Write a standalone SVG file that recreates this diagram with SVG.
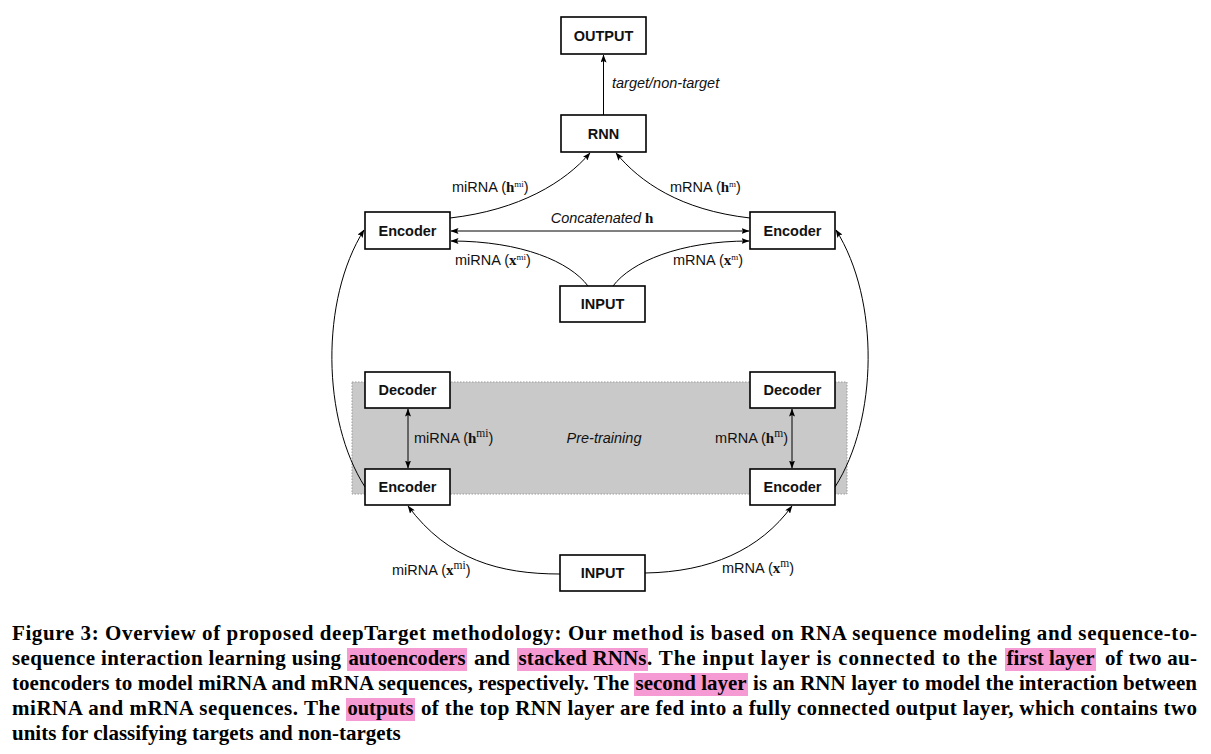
<svg xmlns="http://www.w3.org/2000/svg" width="1211" height="754" viewBox="0 0 1211 754">
<style>
.box{fill:#fff;stroke:#000;stroke-width:1.6}
.nl{font-family:"Liberation Sans",Arial,sans-serif;font-weight:bold;font-size:14.5px;text-anchor:middle;fill:#111}
.lbl{font-family:"Liberation Sans",Arial,sans-serif;font-size:14.5px;fill:#111}
.it{font-style:italic}
.m{font-family:"Liberation Serif","Times New Roman",serif;font-weight:bold;font-size:15px}
.sup{font-family:"Liberation Serif","Times New Roman",serif;font-size:9px}
.supb{font-family:"Liberation Serif","Times New Roman",serif;font-size:11.5px}
.con{fill:none;stroke:#000;stroke-width:1}
.cap{font-family:"Liberation Serif","Times New Roman",serif;font-weight:bold;font-size:21px;fill:#000}
.hl{fill:#f59ad2}
</style>
<defs>
<marker id="ah" viewBox="0 0 8 6" refX="7.5" refY="3" markerWidth="8" markerHeight="6" markerUnits="userSpaceOnUse" orient="auto-start-reverse">
<path d="M0,0 L8,3 L0,6 L1.5,3 z" fill="#000"/>
</marker>
</defs>

<rect x="352" y="382" width="495" height="112" fill="#c9c9c9" stroke="#9a9a9a" stroke-width="1" stroke-dasharray="1.5,1.5"/>

<g id="connectors">
<path class="con" d="M603.5,115 L603.5,55" marker-end="url(#ah)"/>
<path class="con" d="M450,218 C520,210 565,182 590,153" marker-end="url(#ah)"/>
<path class="con" d="M750,218 C680,210 640,182 616,153" marker-end="url(#ah)"/>
<path class="con" d="M451,231 L749,231" marker-start="url(#ah)" marker-end="url(#ah)"/>
<path class="con" d="M588,286 C570,262 522,241 451,241" marker-end="url(#ah)"/>
<path class="con" d="M613,286 C631,262 680,241 749,241" marker-end="url(#ah)"/>
<path class="con" d="M365,487 C322,420 320,300 364,230" marker-end="url(#ah)"/>
<path class="con" d="M835,487 C878,420 880,300 836,230" marker-end="url(#ah)"/>
<path class="con" d="M408,409 L408,468" marker-start="url(#ah)" marker-end="url(#ah)"/>
<path class="con" d="M792,409 L792,468" marker-start="url(#ah)" marker-end="url(#ah)"/>
<path class="con" d="M560,574 C500,574 448,560 408,506" marker-end="url(#ah)"/>
<path class="con" d="M645,573 C710,572 760,550 792,506" marker-end="url(#ah)"/>
</g>

<g id="edge-labels">
<text class="lbl it" x="612" y="88">target/non-target</text>
<text class="lbl" x="452" y="192">miRNA (<tspan class="m">h</tspan><tspan class="sup" dy="-5">mi</tspan><tspan dy="5">)</tspan></text>
<text class="lbl" x="670" y="192">mRNA (<tspan class="m">h</tspan><tspan class="sup" dy="-5">m</tspan><tspan dy="5">)</tspan></text>
<text class="lbl" x="602" y="223" text-anchor="middle"><tspan class="it">Concatenated </tspan><tspan class="m">h</tspan></text>
<text class="lbl" x="455" y="265">miRNA (<tspan class="m">x</tspan><tspan class="sup" dy="-5">mi</tspan><tspan dy="5">)</tspan></text>
<text class="lbl" x="673" y="265">mRNA (<tspan class="m">x</tspan><tspan class="sup" dy="-5">m</tspan><tspan dy="5">)</tspan></text>
<text class="lbl" x="414" y="443">miRNA (<tspan class="m">h</tspan><tspan class="supb" dy="-6">mi</tspan><tspan dy="6">)</tspan></text>
<text class="lbl it" x="604" y="443" text-anchor="middle">Pre-training</text>
<text class="lbl" x="788" y="443" text-anchor="end">mRNA (<tspan class="m">h</tspan><tspan class="supb" dy="-6">m</tspan><tspan dy="6">)</tspan></text>
<text class="lbl" x="392" y="575">miRNA (<tspan class="m">x</tspan><tspan class="supb" dy="-6">mi</tspan><tspan dy="6">)</tspan></text>
<text class="lbl" x="722" y="573">mRNA (<tspan class="m">x</tspan><tspan class="supb" dy="-6">m</tspan><tspan dy="6">)</tspan></text>
</g>

<g id="output"><rect class="box" x="561" y="17" width="85" height="37"/><text class="nl" x="603.5" y="41">OUTPUT</text></g>
<g id="rnn"><rect class="box" x="561" y="115" width="85" height="37"/><text class="nl" x="603.5" y="139">RNN</text></g>
<g id="encoder-top-left"><rect class="box" x="365" y="212" width="85" height="37"/><text class="nl" x="407.5" y="236">Encoder</text></g>
<g id="encoder-top-right"><rect class="box" x="750" y="212" width="85" height="37"/><text class="nl" x="792.5" y="236">Encoder</text></g>
<g id="input-top"><rect class="box" x="560" y="286" width="85" height="36"/><text class="nl" x="602.5" y="309">INPUT</text></g>
<g id="decoder-left"><rect class="box" x="365" y="372" width="85" height="36"/><text class="nl" x="407.5" y="395">Decoder</text></g>
<g id="decoder-right"><rect class="box" x="750" y="372" width="85" height="36"/><text class="nl" x="792.5" y="395">Decoder</text></g>
<g id="encoder-bottom-left"><rect class="box" x="365" y="469" width="85" height="36"/><text class="nl" x="407.5" y="492">Encoder</text></g>
<g id="encoder-bottom-right"><rect class="box" x="750" y="469" width="85" height="36"/><text class="nl" x="792.5" y="492">Encoder</text></g>
<g id="input-bottom"><rect class="box" x="560" y="555" width="85" height="36"/><text class="nl" x="602.5" y="578">INPUT</text></g>

<g id="caption">
<rect class="hl" x="347" y="648" width="120" height="23"/>
<rect class="hl" x="517" y="648" width="131" height="23"/>
<rect class="hl" x="1005" y="648" width="91" height="23"/>
<rect class="hl" x="634" y="673" width="114" height="23"/>
<rect class="hl" x="346" y="698" width="69" height="23"/>
<text class="cap" x="12" y="640" textLength="1185" lengthAdjust="spacing">Figure 3:  Overview of proposed deepTarget methodology:  Our method is based on RNA sequence modeling and sequence-to-</text>
<text class="cap" x="12" y="665" textLength="329" lengthAdjust="spacing">sequence interaction learning using</text>
<text class="cap" x="348.5" y="665" textLength="117" lengthAdjust="spacingAndGlyphs">autoencoders</text>
<text class="cap" x="474" y="665" textLength="36" lengthAdjust="spacingAndGlyphs">and</text>
<text class="cap" x="518.5" y="665" textLength="128" lengthAdjust="spacing">stacked RNNs</text>
<text class="cap" x="647" y="665" textLength="350" lengthAdjust="spacing">.  The input layer is connected to the</text>
<text class="cap" x="1006.5" y="665" textLength="88" lengthAdjust="spacingAndGlyphs">first layer</text>
<text class="cap" x="1105" y="665" textLength="92" lengthAdjust="spacing">of two au-</text>
<text class="cap" x="12" y="690" textLength="617" lengthAdjust="spacing">toencoders to model miRNA and mRNA sequences, respectively. The</text>
<text class="cap" x="635.5" y="690" textLength="111" lengthAdjust="spacingAndGlyphs">second layer</text>
<text class="cap" x="753" y="690" textLength="444" lengthAdjust="spacing">is an RNN layer to model the interaction between</text>
<text class="cap" x="12" y="715" textLength="328" lengthAdjust="spacing">miRNA and mRNA sequences.  The</text>
<text class="cap" x="347.5" y="715" textLength="66" lengthAdjust="spacingAndGlyphs">outputs</text>
<text class="cap" x="421" y="715" textLength="776" lengthAdjust="spacing">of the top RNN layer are fed into a fully connected output layer, which contains two</text>
<text class="cap" x="12" y="740">units for classifying targets and non-targets</text>
</g>
</svg>
